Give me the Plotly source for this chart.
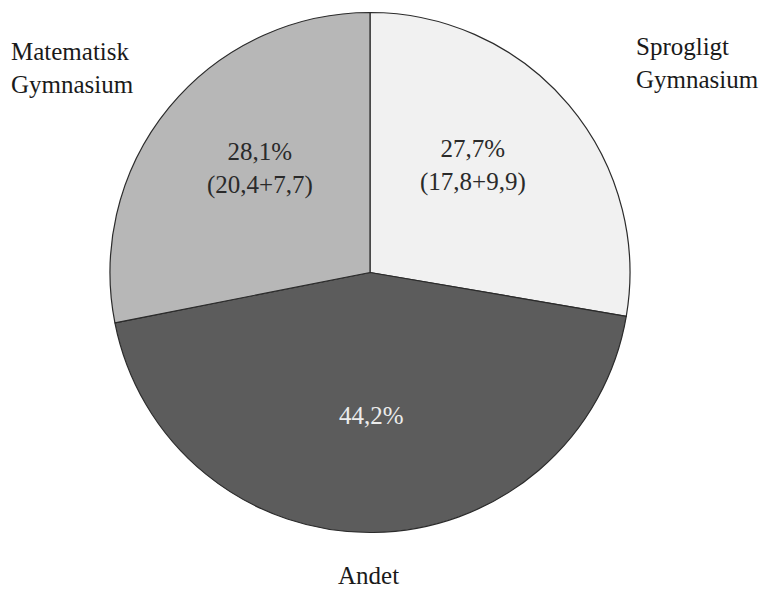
import math
import plotly.graph_objects as go

# Slice data (clockwise from 12 o'clock)
categories = ["Sprogligt<br>Gymnasium", "Andet", "Matematisk<br>Gymnasium"]
shares = [27.7, 44.2, 28.1]
share_text = ["27,7%", "44,2%", "28,1%"]
breakdown_text = ["(17,8+9,9)", "", "(20,4+7,7)"]
slice_colors = ["#f1f1f1", "#5c5c5c", "#b7b7b7"]
inner_text_colors = ["#2a2a2a", "#ececec", "#2a2a2a"]

W, H = 760, 589
FONT = "Liberation Serif, 'Times New Roman', serif"

# Pie placement in pixels
cx, cy, R = 370, 272.5, 260
dom_x = [(cx - R) / W, (cx + R) / W]
dom_y = [(H - (cy + R)) / H, (H - (cy - R)) / H]

fig = go.Figure(
    go.Pie(
        labels=categories,
        values=shares,
        sort=False,
        direction="clockwise",
        rotation=0,
        marker=dict(colors=slice_colors, line=dict(color="#2b2b2b", width=1.2)),
        textinfo="none",
        hoverinfo="skip",
        showlegend=False,
        domain=dict(x=dom_x, y=dom_y),
    )
)

annotations = []
# In-slice labels placed along each slice's bisector
total = sum(shares)
start = 0.0
radial = [0.57, 0.55, 0.58]
angle_shift = [-6.0, 0.0, 4.0]
for i, v in enumerate(shares):
    span = 360.0 * v / total
    mid = math.radians(start + span / 2 + angle_shift[i])
    start += span
    px = cx + radial[i] * R * math.sin(mid)
    py = cy - radial[i] * R * math.cos(mid)
    txt = share_text[i] + ("<br>" + breakdown_text[i] if breakdown_text[i] else "")
    annotations.append(
        dict(
            x=px / W, y=1 - py / H, xref="paper", yref="paper",
            text=txt, showarrow=False, align="center",
            xanchor="center", yanchor="middle",
            font=dict(family=FONT, size=25, color=inner_text_colors[i]),
        )
    )

# Outside category labels
outer = [
    dict(text=categories[2], x=9, y=68, xanchor="left", align="left"),
    dict(text=categories[0], x=634, y=63, xanchor="left", align="left"),
    dict(text=categories[1], x=368, y=575, xanchor="center", align="center"),
]
for o in outer:
    annotations.append(
        dict(
            x=o["x"] / W, y=1 - o["y"] / H, xref="paper", yref="paper",
            text=o["text"], showarrow=False, align=o["align"],
            xanchor=o["xanchor"], yanchor="middle",
            font=dict(family=FONT, size=25, color="#1a1a1a"),
        )
    )

fig.update_layout(
    width=W, height=H,
    margin=dict(l=0, r=0, t=0, b=0),
    paper_bgcolor="white",
    plot_bgcolor="white",
    annotations=annotations,
)

fig.write_html("out.html")
